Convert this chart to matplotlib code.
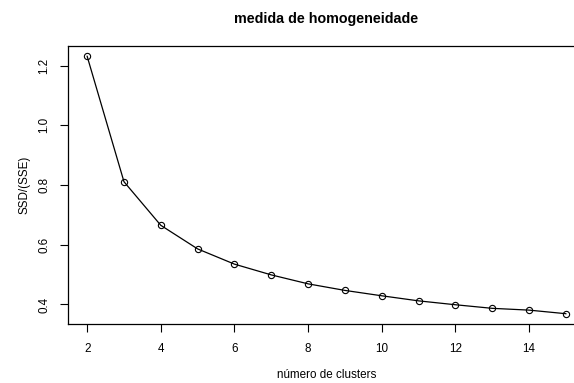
import numpy as np
import matplotlib
matplotlib.use('Agg')
import matplotlib.pyplot as plt

# soma dos quadrados dentro dos grupos para cada k
n_clusters = [2, 3, 4, 5, 6, 7, 8, 9, 10, 11, 12, 13, 14, 15]
ssd = [1.231, 0.811, 0.665, 0.586, 0.535, 0.499, 0.469, 0.447,
       0.429, 0.412, 0.399, 0.387, 0.381, 0.369]

plt.rcParams['font.family'] = ['Liberation Sans', 'DejaVu Sans']

fig = plt.figure(figsize=(5.74, 3.83), dpi=100)
# caixa do gráfico em pixels (esq, baixo, largura, altura), estilo R
W, H = 574, 383
ax = fig.add_axes([68 / W, (H - 324) / H, (585 - 68) / W, (324 - 46) / H])

ax.plot(n_clusters, ssd, color='black', lw=0.9,
        marker='o', markersize=4.5, markerfacecolor='none',
        markeredgecolor='black', markeredgewidth=0.8)

# margens de 4% como no R
x0, x1 = min(n_clusters), max(n_clusters)
y0, y1 = min(ssd), max(ssd)
dx, dy = 0.04 * (x1 - x0), 0.04 * (y1 - y0)
ax.set_xlim(x0 - dx, x1 + dx)
ax.set_ylim(y0 - dy, y1 + dy)

ax.set_xticks([2, 4, 6, 8, 10, 12, 14])
ax.set_yticks([0.4, 0.6, 0.8, 1.0, 1.2])
ax.set_yticklabels(['0.4', '0.6', '0.8', '1.0', '1.2'],
                   rotation=90, va='center')
ax.tick_params(axis='both', direction='out', length=5.5, width=0.8,
               labelsize=8.4, color='black')
ax.tick_params(axis='x', pad=8)
ax.tick_params(axis='y', pad=7)

for sp in ax.spines.values():
    sp.set_linewidth(0.9)
    sp.set_color('black')

ax.set_title('medida de homogeneidade', fontsize=10.3, fontweight='bold', pad=16.5)
ax.set_xlabel('número de clusters', fontsize=8.4, labelpad=10.5)
ax.set_ylabel('SSD/(SSE)', fontsize=8.4, labelpad=5.5)

fig.savefig('out.png', dpi=100)
